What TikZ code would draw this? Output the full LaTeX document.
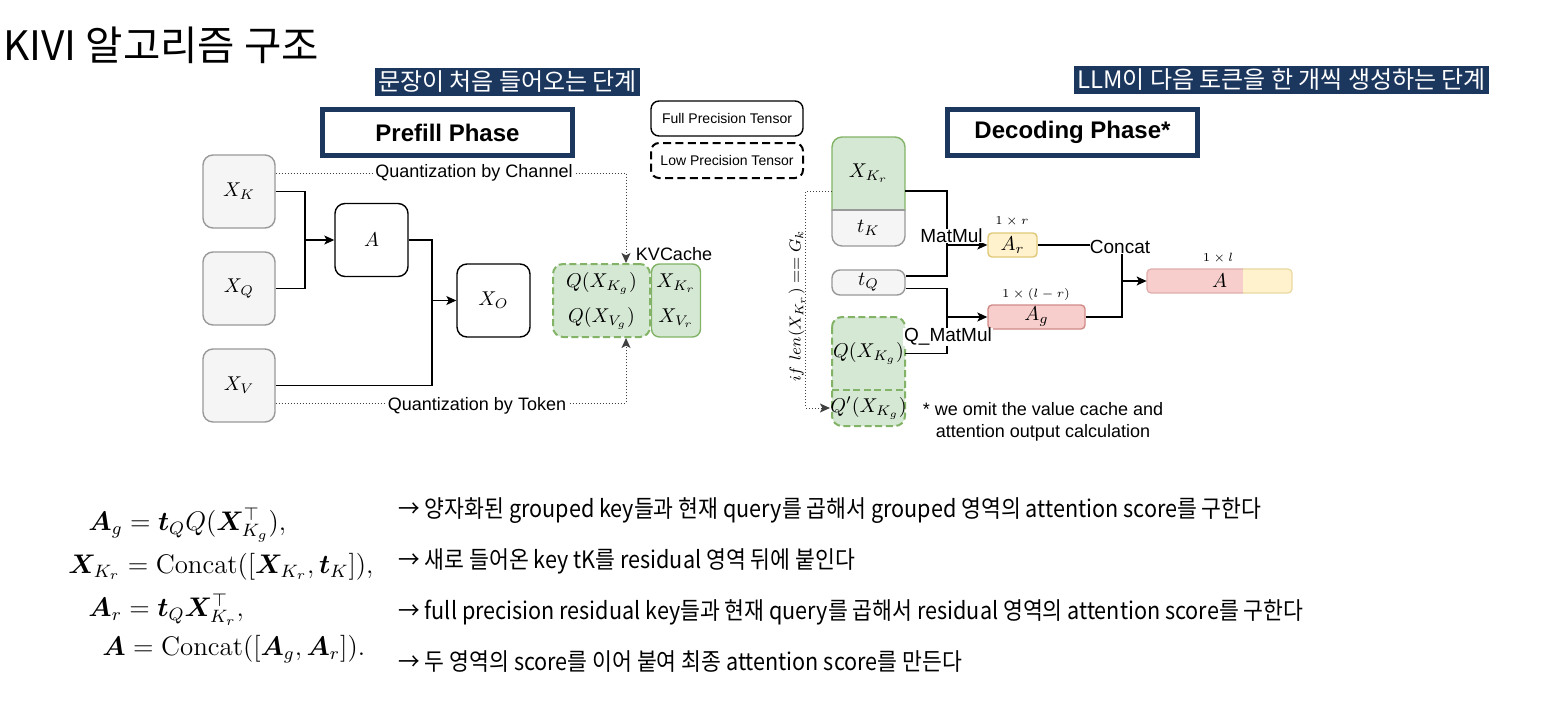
\documentclass[tikz,border=0pt]{standalone}
\usepackage{amsmath,bm}
\usepackage{fontspec}
\newfontfamily\arial{Liberation Sans}
\newfontfamily\kr{Noto Sans CJK KR}
\newfontfamily\krn[FakeStretch=0.9]{Noto Sans CJK KR}
\usetikzlibrary{arrows.meta,calc}
\definecolor{navy}{HTML}{1C375E}
\definecolor{grayfill}{HTML}{F5F5F5}
\definecolor{grayline}{HTML}{999999}
\definecolor{gfill}{HTML}{D5E8D4}
\definecolor{gline}{HTML}{82B366}
\definecolor{yfill}{HTML}{FFF2CC}
\definecolor{yline}{HTML}{E0C878}
\definecolor{rfill}{HTML}{F8CECC}
\definecolor{rline}{HTML}{D08A88}
\newcommand{\eqs}[1]{\scalebox{1.12}{#1}}
\begin{document}
\begin{tikzpicture}[x=0.5pt,y=-0.5pt,
  every node/.style={inner sep=0pt},
  graybox/.style={draw=grayline, fill=grayfill, rounded corners=5pt, line width=0.7pt, font=\fontsize{10}{12}\selectfont},
  whitebox/.style={draw=black, fill=white, rounded corners=5pt, line width=0.7pt, font=\fontsize{10}{12}\selectfont},
  greenbox/.style={draw=gline, fill=gfill, rounded corners=4pt, line width=0.7pt, font=\fontsize{10}{17.5}\selectfont, align=center},
  greendash/.style={draw=gline, fill=gfill, rounded corners=5pt, line width=1pt, dash pattern=on 3.5pt off 1.8pt, font=\fontsize{10}{17.5}\selectfont, align=center},
  mathlbl/.style={font=\fontsize{10}{12}\selectfont},
  conn/.style={draw=black, line width=0.6pt},
  arr/.style={-{Stealth[length=5pt,width=4.5pt,inset=1.2pt]}},
  qline/.style={draw=black!75, line width=0.5pt, densely dotted},
  lbl/.style={font=\arial\fontsize{9}{11}\selectfont},
  lblb/.style={font=\arial\fontsize{9.5}{11}\selectfont},
  phase/.style={draw=navy, line width=2.5pt, fill=white, minimum width=125pt, minimum height=23pt, font=\arial\bfseries\fontsize{12}{14}\selectfont},
  tag/.style={fill=navy, text=white, inner xsep=1.5pt, minimum height=14pt, font=\kr\fontsize{12}{14}\selectfont},
  desc/.style={anchor=west, font=\krn\fontsize{12}{14}\selectfont},
  eqn/.style={anchor=base west, font=\fontsize{12}{14}\selectfont},
  dim/.style={font=\fontsize{6}{7}\selectfont}
]
\useasboundingbox[fill=white] (0,0) rectangle (1550,722);

% title and tags
\node[anchor=west, font=\kr\fontsize{20.3}{24}\selectfont] (title) at (3,45) {KIVI 알고리즘 구조};
\node[tag] (tagp) at (507.5,82) {문장이 처음 들어오는 단계};
\node[tag] (tagd) at (1281.5,80) {LLM이 다음 토큰을 한 개씩 생성하는 단계};

% phase boxes
\node[phase] (pp) at (447.5,132.5) {Prefill Phase};
\node[phase] (dp) at (1072.5,132.5) {Decoding Phase*\hspace{10pt}};

% legend
\node[draw=black, line width=0.7pt, rounded corners=4pt, minimum width=76pt, minimum height=17.5pt, font=\arial\fontsize{7}{8}\selectfont] (lfull) at (727,118.5) {Full Precision Tensor};
\node[draw=black, line width=1pt, dash pattern=on 4pt off 2.2pt, rounded corners=4pt, minimum width=76pt, minimum height=17.5pt, font=\arial\fontsize{7}{8}\selectfont] (llow) at (727,160.5) {Low Precision Tensor};

% ---------- Prefill ----------
\node[graybox, minimum width=36pt, minimum height=36.5pt] (XK) at (239,191.5) {$X_K$};
\node[graybox, minimum width=36pt, minimum height=36.5pt] (XQ) at (239,288.5) {$X_Q$};
\node[graybox, minimum width=36pt, minimum height=36.5pt] (XV) at (239,385.5) {$X_V$};
\node[whitebox, minimum width=36.5pt, minimum height=36.5pt] (A) at (371.5,240) {$A$};
\node[whitebox, minimum width=36.5pt, minimum height=36.5pt] (XO) at (493.5,300.5) {$X_O$};
\node[greendash, minimum width=48.5pt, minimum height=36.5pt] (KVg) at (601.5,300.5) {$Q(X_{K_g})$\\$Q(X_{V_g})$};
\node[greenbox, minimum width=24.5pt, minimum height=36.5pt] (KVr) at (676,300.5) {$X_{K_r}$\\$X_{V_r}$};
\node[lbl] (kvl) at (674,254) {KVCache};

\coordinate (j1) at (305,240);
\draw[conn] (XK.east) -| (j1);
\draw[conn] (XQ.east) -| (j1);
\draw[conn,arr] (j1) -- (A.west);
\coordinate (j2) at (432,300.5);
\draw[conn] (A.east) -| (j2);
\draw[conn] (XV.east) -| (j2);
\draw[conn,arr] (j2) -- (XO.west);

\coordinate (c1) at (626,173);
\draw[qline,arr] ([yshift=9.25pt]XK.east) -- (c1) -- (c1 |- KVg.north);
\node[lbl, fill=white, inner xsep=1pt] (qc) at (474,173) {Quantization by Channel};
\coordinate (c2) at (626,403);
\draw[qline,arr] ([yshift=-8.75pt]XV.east) -- (c2) -- (c2 |- KVg.south);
\node[lbl, fill=white, inner xsep=1pt] (qt) at (477,406) {Quantization by Token};

% ---------- Decoding ----------
% X_Kr / t_K stacked box
\begin{scope}
  \clip[rounded corners=5pt] (832,137) rectangle (905,246);
  \fill[gfill] (832,137) rectangle (905,210);
  \fill[grayfill] (832,210) rectangle (905,246);
\end{scope}
\begin{scope}
  \clip (820,125) rectangle (915,210);
  \draw[gline, line width=0.7pt, rounded corners=5pt] (832,137) rectangle (905,246);
\end{scope}
\begin{scope}
  \clip (820,210) rectangle (915,256);
  \draw[grayline, line width=0.7pt, rounded corners=5pt] (832,137) rectangle (905,246);
\end{scope}
\draw[grayline, line width=0.7pt] (832,210) -- (905,210);
\node[mathlbl, minimum width=36.5pt, minimum height=36.5pt] (XKr) at (868.5,173.5) {$X_{K_r}$};
\node[mathlbl, minimum width=36.5pt, minimum height=18pt] (tK) at (868.5,228) {$t_K$};

\node[graybox, rounded corners=4pt, minimum width=36.5pt, minimum height=12.5pt] (tQ) at (868.5,282.5) {$t_Q$};

% Q(X_Kg) / Q'(X_Kg) stacked dashed box
\fill[gfill, rounded corners=5pt] (832,317) rectangle (905,426);
\draw[gline, line width=1pt, dash pattern=on 3.5pt off 1.8pt, rounded corners=5pt] (832,317) rectangle (905,426);
\draw[gline, line width=1pt, dash pattern=on 3.5pt off 1.8pt] (832,390) -- (905,390);
\node[mathlbl, minimum width=36.5pt, minimum height=36.5pt] (QXKg) at (868.5,353.5) {$Q(X_{K_g})$};
\node[mathlbl, minimum width=36.5pt, minimum height=18pt] (Qp) at (868.5,408) {$Q'(X_{K_g})$};

% score boxes
\node[draw=yline, fill=yfill, rounded corners=2pt, line width=0.7pt, minimum width=24.5pt, minimum height=12pt, mathlbl] (Ar) at (1012.5,245) {$A_r$};
\node[dim] (dr) at (1012,221) {$1\times r$};
\node[draw=rline, fill=rfill, rounded corners=2pt, line width=0.7pt, minimum width=48.5pt, minimum height=12pt, mathlbl] (Ag) at (1036.5,317) {$A_g$};
\node[dim] (dg) at (1036,294) {$1\times(l-r)$};

% A = concat bar
\begin{scope}
  \clip[rounded corners=2pt] (1147,269) rectangle (1292,293);
  \fill[rfill] (1147,269) rectangle (1243,293);
  \fill[yfill] (1243,269) rectangle (1292,293);
\end{scope}
\begin{scope}
  \clip (1140,262) rectangle (1243,300);
  \draw[rline!70, line width=0.6pt, rounded corners=2pt] (1147,269) rectangle (1292,293);
\end{scope}
\begin{scope}
  \clip (1243,262) rectangle (1300,300);
  \draw[yline!70, line width=0.6pt, rounded corners=2pt] (1147,269) rectangle (1292,293);
\end{scope}
\node[mathlbl, minimum width=72.5pt, minimum height=12pt] (Abox) at (1219.5,281) {$A$};
\node[dim] (dl) at (1218,258) {$1\times l$};

% connectors
\coordinate (j3) at (947,245);
\draw[conn] ([yshift=-8.75pt]XKr.east) -| (j3);
\draw[conn] ([yshift=3.25pt]tQ.east) -| (j3);
\draw[conn,arr] (j3) -- (Ar.west);
\coordinate (j4) at (947,317);
\draw[conn] ([yshift=-3pt]tQ.east) -| (j4);
\draw[conn] (QXKg.east) -| (j4);
\draw[conn,arr] (j4) -- (Ag.west);
\node[lblb, fill=white, inner xsep=0.5pt] (mm) at (951.5,236) {MatMul};
\node[lblb, fill=white, inner xsep=0.5pt] (qmm) at (948,337) {Q\_MatMul};

\node[lblb] (cc) at (1120,247) {Concat};
\draw[conn] (Ar.east) -- (Ar.east -| cc.west);
\coordinate (j5) at (1122,281);
\draw[conn] (cc.south -| j5) |- (Ag.east);
\draw[conn,arr] (j5) -- (Abox.west);

\draw[qline,arr] ([yshift=-8.75pt]XKr.west) -| ($(Qp.west)+(-24,0)$) -- (Qp.west);
\node[rotate=90, font=\fontsize{8.5}{10}\selectfont] (cond) at (797,306) {$if\ len(X_{K_r}) == G_k$};

\node[lbl, align=center, font=\arial\fontsize{9}{11}\selectfont] (fn) at (1043,422) {* we omit the value cache and\\attention output calculation};

% ---------- equations ----------
\node[eqn] (e1) at (88,530) {\eqs{$\bm{A}_g = \bm{t}_Q Q(\bm{X}^{\top}_{K_g}),$}};
\node[eqn] (e2) at (68,573) {\eqs{$\bm{X}_{K_r} = \mathrm{Concat}([\bm{X}_{K_r}, \bm{t}_K]),$}};
\node[eqn] (e3) at (88,616) {\eqs{$\bm{A}_r = \bm{t}_Q \bm{X}^{\top}_{K_r},$}};
\node[eqn] (e4) at (102,655) {\eqs{$\bm{A} = \mathrm{Concat}([\bm{A}_g, \bm{A}_r]).$}};

\node[desc] (d1) at (398,511) {→ 양자화된 grouped key들과 현재 query를 곱해서 grouped 영역의 attention score를 구한다};
\node[desc] (d2) at (398,561) {→ 새로 들어온 key tK를 residual 영역 뒤에 붙인다};
\node[desc] (d3) at (398,612) {→ full precision residual key들과 현재 query를 곱해서 residual 영역의 attention score를 구한다};
\node[desc] (d4) at (398,662) {→ 두 영역의 score를 이어 붙여 최종 attention score를 만든다};
\end{tikzpicture}
\end{document}
